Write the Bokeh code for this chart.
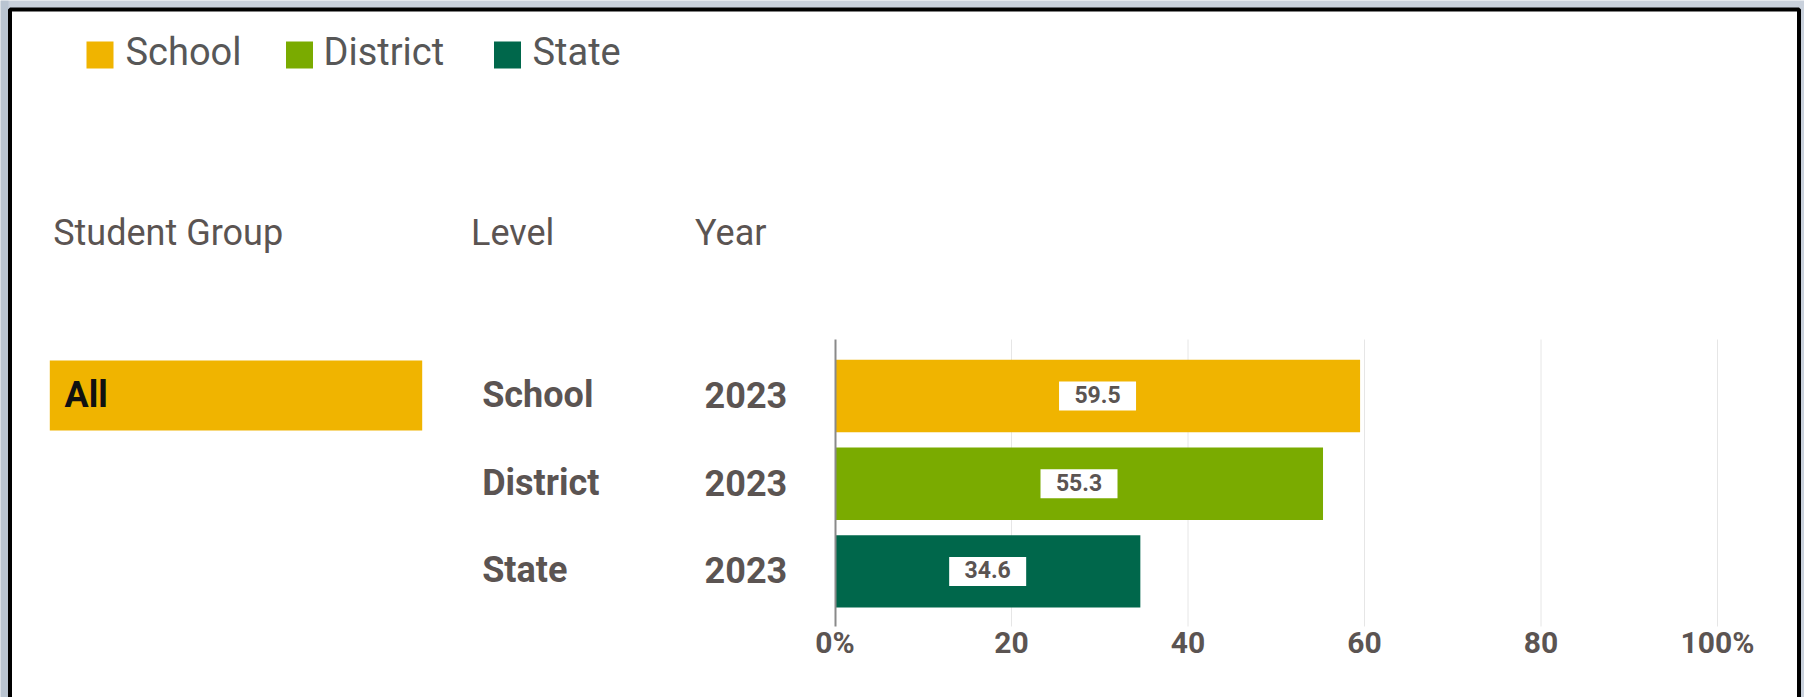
from bokeh.plotting import figure
from bokeh.models import Range1d, LinearAxis, FixedTicker, ColumnDataSource
from bokeh.core.properties import value
from bokeh.embed import file_html
from bokeh.resources import INLINE

# ---------------- data ----------------
levels = ["School", "District", "State"]
years = ["2023", "2023", "2023"]
values = [59.5, 55.3, 34.6]
group_label = "All"
column_headers = ["Student Group", "Level", "Year"]
x_ticks = [0, 20, 40, 60, 80, 100]

# ---------------- style ----------------
COLORS = ["#f0b400", "#7aab00", "#00674b"]
TEXT = "#5b5452"
FONT = "Roboto"

W, H = 1804, 697          # canvas size
PX0, PY0 = 0, 0           # page offset of the canvas
X0, X100 = 834.5, 1717.0  # page x of 0% and 100%
K = (X100 - X0) / 100.0
ROW0, ROWSTEP = 395.5, 87.7   # page y of the first row centre, row spacing


def row_of(py):
    return (py - ROW0) / ROWSTEP


def pct_of(px):
    return (px - X0) / K


p = figure(
    width=W, height=H,
    x_range=Range1d(pct_of(PX0), pct_of(PX0 + W)),
    y_range=Range1d(row_of(PY0 + H), row_of(PY0)),
    output_backend="svg", toolbar_location=None,
    x_axis_location=None, y_axis_location=None,
    min_border=0, outline_line_color=None,
    background_fill_color="#c9d1dc", border_fill_color="#c9d1dc",
)
p.grid.visible = False
p.extra_x_ranges = {"px": Range1d(PX0, PX0 + W)}
p.extra_y_ranges = {"px": Range1d(PY0 + H, PY0)}

# page backdrop: grey surround, white card with a black border
p.quad(left=0, right=8, top=0, bottom=H + 10, x_range_name="px", y_range_name="px",
       fill_color="#b9c4d1", line_color=None)
p.quad(left=9.5, right=1798.5, top=9, bottom=H + 10, x_range_name="px", y_range_name="px",
       fill_color="white", line_color="black", line_width=4)

rows = list(range(len(levels)))
axis_top, axis_bottom = row_of(339.0), row_of(626.0)

# grid lines (from the tick list, limited to the plotting band)
grid_x = [t for t in x_ticks if t != 0]
p.segment(x0=grid_x, x1=grid_x, y0=[axis_top] * len(grid_x), y1=[axis_bottom] * len(grid_x),
          line_color="#e6e6e6", line_width=1)

src = ColumnDataSource(dict(
    row=rows, value=values, level=levels, year=years, color=COLORS,
    mid=[v / 2.0 for v in values], label=["%.1f" % v for v in values],
))

p.hbar(y="row", left=0, right="value", height=72.4 / ROWSTEP, fill_color="color",
       line_color=None, source=src)

# value labels
p.rect(x="mid", y="row", width=77, height=29, width_units="screen", height_units="screen",
       fill_color="white", line_color=None, source=src)
p.text(x="mid", y="row", text="label", source=src, text_align="center",
       text_baseline="alphabetic", y_offset=-1.7,
       text_font=value(FONT), text_font_size="23px", text_font_style="bold", text_color=TEXT)

# level / year labels
p.text(x=481.7, y="row", text="level", source=src, x_range_name="px",
       text_align="left", text_baseline="alphabetic", y_offset=-1,
       text_font=value(FONT), text_font_size="36px", text_font_style="bold", text_color=TEXT)
p.text(x=786.7, y="row", text="year", source=src, x_range_name="px",
       text_align="right", text_baseline="alphabetic", y_offset=-1,
       text_font=value(FONT), text_font_size="36px", text_font_style="bold", text_color=TEXT)

# group box
p.quad(left=49.3, right=421.7, top=360, bottom=430, x_range_name="px", y_range_name="px",
       fill_color=COLORS[0], line_color=None)
p.text(x=64, y=394, text=[group_label], x_range_name="px", y_range_name="px",
       text_align="left", text_baseline="alphabetic",
       text_font=value(FONT), text_font_size="36px", text_font_style="bold", text_color="#111111")

# column headers
p.text(x=[52.7, 470.5, 694.6], y=[232.5] * 3, text=column_headers,
       x_range_name="px", y_range_name="px", text_align="left", text_baseline="alphabetic",
       text_font=value(FONT), text_font_size="36px", text_color=TEXT)

# legend
sq_x = [99.5, 299.0, 507.0]
p.rect(x=sq_x, y=[54.5] * 3, width=27, height=27, width_units="screen", height_units="screen",
       x_range_name="px", y_range_name="px", fill_color=COLORS, line_color=None)
p.text(x=[125, 323, 532], y=[51.2] * 3, text=levels, x_range_name="px", y_range_name="px",
       text_align="left", text_baseline="alphabetic",
       text_font=value(FONT), text_font_size="38px", text_color="#575757")

# axes
xaxis = LinearAxis(ticker=FixedTicker(ticks=x_ticks), fixed_location=row_of(621.0),
                   axis_line_color=None, major_tick_line_color=None, minor_tick_line_color=None,
                   major_tick_out=0, major_tick_in=0, major_label_standoff=3,
                   major_label_text_font=FONT, major_label_text_font_size="30px",
                   major_label_text_font_style="bold", major_label_text_color=TEXT)
xaxis.major_label_overrides = {0: "0%", 100: "100%"}
p.add_layout(xaxis, "below")

yaxis = LinearAxis(ticker=FixedTicker(ticks=[]), fixed_location=0, bounds=(axis_bottom, axis_top),
                   axis_line_color="#8a8a8a", axis_line_width=2,
                   major_tick_line_color=None, minor_tick_line_color=None,
                   major_label_text_font_size="0px")
p.add_layout(yaxis, "left")

open("out.html", "w").write(file_html(p, INLINE))
